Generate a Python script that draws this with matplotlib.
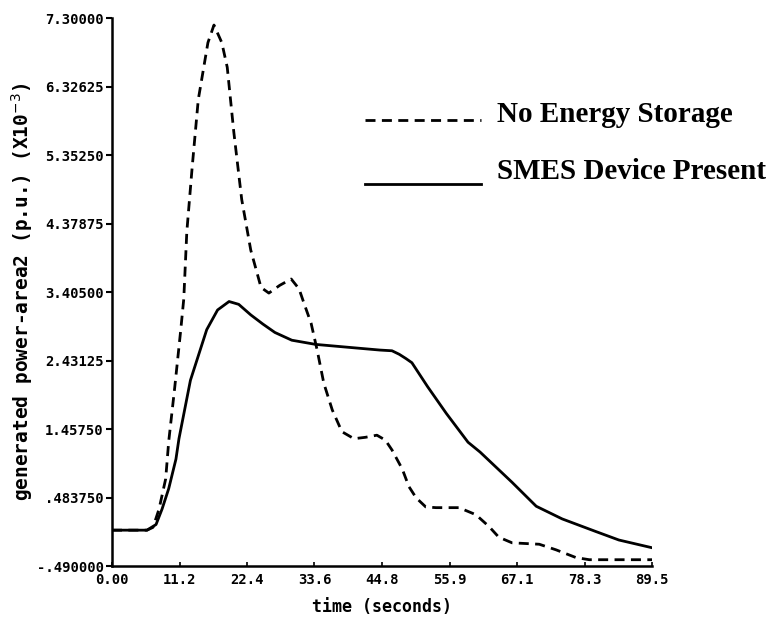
import matplotlib
matplotlib.use("Agg")
import matplotlib.pyplot as plt
from matplotlib.transforms import Affine2D

# Time samples (seconds) and generated power of area 2 (p.u., x10^-3)
t_no_storage = [0.0, 5.8, 6.8, 7.8, 8.9, 9.4, 10.4, 11.4, 11.9, 12.4, 13.3, 14.3,
                15.9, 16.9, 18.2, 19.1, 20.2, 21.5, 23.0, 24.7, 26.0, 27.8, 29.7,
                31.0, 31.8, 33.0, 34.0, 35.1, 36.5, 38.1, 40.1, 42.0, 43.9, 45.3,
                46.4, 48.1, 49.2, 50.4, 52.0, 53.7, 57.5, 60.3, 62.5, 64.1, 66.3,
                70.8, 73.6, 76.9, 79.1, 89.5]
p_no_storage = [0.02, 0.02, 0.06, 0.32, 0.75, 1.28, 2.05, 2.87, 3.31, 4.26, 5.19, 6.14,
                6.95, 7.20, 6.95, 6.60, 5.67, 4.72, 4.00, 3.47, 3.39, 3.50, 3.59,
                3.45, 3.25, 2.96, 2.58, 2.11, 1.73, 1.42, 1.32, 1.34, 1.37, 1.30,
                1.16, 0.89, 0.64, 0.48, 0.35, 0.34, 0.34, 0.24, 0.07, -0.08, -0.16,
                -0.18, -0.26, -0.37, -0.40, -0.40]

t_smes = [0.0, 5.8, 7.3, 8.3, 9.4, 10.6, 11.1, 13.0, 15.7, 17.5, 19.4, 21.0,
          23.0, 25.0, 27.0, 29.8, 33.8, 40.4, 44.4, 46.4, 47.6, 48.7, 49.7,
          52.3, 55.4, 59.0, 61.0, 66.3, 70.3, 74.6, 80.2, 84.0, 89.5]
p_smes = [0.02, 0.02, 0.10, 0.32, 0.61, 1.03, 1.32, 2.15, 2.87, 3.15, 3.27, 3.23,
          3.08, 2.95, 2.83, 2.72, 2.66, 2.61, 2.58, 2.57, 2.52, 2.46, 2.40,
          2.06, 1.68, 1.27, 1.13, 0.70, 0.36, 0.18, 0.00, -0.12, -0.23]

x_ticks = [0.0, 11.19, 22.38, 33.56, 44.75, 55.94, 67.12, 78.31, 89.5]
x_ticklabels = ["0.00", "11.2", "22.4", "33.6", "44.8", "55.9", "67.1", "78.3", "89.5"]
y_ticks = [-0.49, 0.48375, 1.4575, 2.43125, 3.405, 4.37875, 5.3525, 6.32625, 7.30]
y_ticklabels = ["-.490000", ".483750", "1.45750", "2.43125", "3.40500",
                "4.37875", "5.35250", "6.32625", "7.30000"]

series_labels = ["No Energy Storage", "SMES Device Present"]

mono = "DejaVu Sans Mono"

fig = plt.figure(figsize=(7.76, 6.21), dpi=100)
ax = fig.add_axes([0.1443, 0.0885, 0.696, 0.8825])

ax.plot(t_no_storage, p_no_storage, color="black", lw=2.0,
        linestyle=(0, (3.6, 2.3)), label=series_labels[0])
ax.plot(t_smes, p_smes, color="black", lw=2.0, label=series_labels[1])

ax.set_xlim(x_ticks[0], x_ticks[-1])
ax.set_ylim(y_ticks[0], y_ticks[-1])
ax.set_xticks(x_ticks)
ax.set_xticklabels(x_ticklabels, fontfamily=mono, fontweight="bold", fontsize=10)
ax.set_yticks(y_ticks)
ax.set_yticklabels(y_ticklabels, fontfamily=mono, fontweight="bold", fontsize=10)
ax.tick_params(axis="y", direction="out", length=4, width=1.5, pad=2)
ax.tick_params(axis="x", direction="in", length=3, width=1.2, pad=5)

for side in ("top", "right"):
    ax.spines[side].set_visible(False)
for side in ("left", "bottom"):
    ax.spines[side].set_linewidth(1.8)

ax.set_xlabel("time (seconds)", fontfamily=mono, fontweight="bold", fontsize=12, labelpad=8)
ax.set_ylabel(r"generated power-area2 (p.u.) (X10$^{-3}$)", fontfamily=mono,
              fontweight="bold", fontsize=14, labelpad=1)

leg = ax.legend(loc="upper left", bbox_to_anchor=(350 / 776, 1 - 86 / 621),
                bbox_transform=fig.transFigure, frameon=False, handlelength=4.0,
                handletextpad=0.55, labelspacing=1.05, borderpad=0,
                prop={"family": "Liberation Serif", "weight": "bold", "size": 21})

# legend samples sit near the baseline of their labels
for line, drop in zip(leg.get_lines(), (9, 15)):
    line.set_transform(line.get_transform() + Affine2D().translate(0, -drop))

fig.savefig("out.png", dpi=100)
